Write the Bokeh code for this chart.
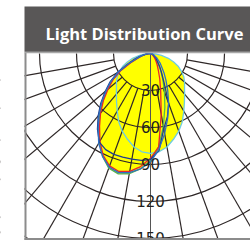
import numpy as np
from bokeh.plotting import figure
from bokeh.models import Range1d
from bokeh.embed import file_html
from bokeh.resources import INLINE
from bokeh.core.properties import value

# ---------------- data ----------------
title_text = "Light Distribution Curve"
ring_values = [30, 60, 90, 120, 150, 180, 210]
ring_labels = ["30", "60", "90", "120", "150"]
spoke_angles = [-80, -70, -60, -50, -40, -30, -20, -10, 10, 20, 30, 40, 50, 60, 70, 80]

angles = list(range(-90, 95, 5))  # degrees from nadir, + = right
blue = [0, 2, 5, 8, 12, 20, 30, 39, 47, 56, 65, 74, 84, 92, 98, 100, 98, 94, 88,
        78, 66, 54, 43, 33, 25, 19, 14, 11, 8, 6, 4, 3, 2, 1, 1, 0, 0]
red = [0, 1, 4, 7, 11, 18, 28, 37, 45, 54, 63, 72, 82, 91, 97, 99, 97, 92, 85,
       76, 50, 32, 22, 15, 11, 8, 6, 4, 3, 2, 2, 1, 1, 0, 0, 0, 0]
navy = [0, 2, 5, 9, 14, 21, 31, 40, 48, 57, 66, 75, 83, 86, 87, 87, 87, 87, 86,
        79, 62, 53, 43, 26, 18, 13, 9, 7, 6, 4, 3, 2, 1, 1, 0, 0, 0]
green = [0, 1, 4, 7, 11, 19, 29, 38, 46, 55, 64, 73, 83, 92, 99, 101, 99, 94, 87,
         76, 60, 45, 33, 24, 17, 12, 9, 6, 5, 3, 2, 2, 1, 1, 0, 0, 0]
cyan = [0, 4, 9, 15, 20, 25, 29, 33, 36, 39, 43, 48, 54, 61, 67, 72, 77, 80, 81,
        80, 77, 72, 67, 61, 54, 48, 43, 39, 36, 33, 29, 25, 20, 15, 9, 4, 0]

curves = [(cyan, "#6fcde0"), (green, "#5cb84a"), (red, "#e8262d"),
          (navy, "#1f3d8f"), (blue, "#2f6fc4")]

# ---------------- layout ----------------
W, H = 250, 241
S = 37 / 30.0            # pixels per intensity unit
OXf, OYf = 150, 53       # polar origin in figure pixels

def dx(xp):
    return (xp - OXf) / S

def dy(yp):
    return (OYf - yp) / S

p = figure(width=W, height=H, output_backend="svg", toolbar_location=None,
           x_range=Range1d(dx(0), dx(W)), y_range=Range1d(dy(H), dy(0)),
           min_border=0)
p.axis.visible = False
p.grid.visible = False
p.outline_line_color = None
p.background_fill_color = "white"
p.border_fill_color = "white"

def polar(vals):
    th = np.radians(np.array(angles, dtype=float))
    r = np.array(vals, dtype=float)
    return r * np.sin(th), -r * np.cos(th)

# yellow envelope
for vals, col in curves:
    x, y = polar(vals)
    p.patch(x, y, fill_color="#ffff00", line_color=None)

# polar grid
grid_col = "#2e2727"
for rv in ring_values:
    p.arc(x=0, y=0, radius=rv, start_angle=np.pi, end_angle=2 * np.pi,
          line_color=grid_col, line_width=1.2)
th = np.radians(np.array(spoke_angles, dtype=float))
r0, r1 = ring_values[0], 400
p.segment(x0=r0 * np.sin(th), y0=-r0 * np.cos(th), x1=r1 * np.sin(th), y1=-r1 * np.cos(th),
          line_color=grid_col, line_width=1.2)
p.segment(x0=[0], y0=[0], x1=[0], y1=[-400], line_color="#555555", line_width=1)

# curves
for vals, col in curves:
    x, y = polar(vals)
    p.line(x, y, line_color=col, line_width=1.3)

# ring labels
p.text(x=[0] * len(ring_labels), y=[-v + 0.5 for v in ring_values[:len(ring_labels)]],
       text=ring_labels, text_align="center", text_baseline="alphabetic",
       text_font=value("DejaVu Sans"), text_font_size="15px", text_color="#231f20")

# masks and frame
p.quad(left=[dx(-5)], right=[dx(24)], bottom=[dy(H + 5)], top=[dy(-5)],
       fill_color="white", line_color=None)
p.quad(left=[dx(-5)], right=[dx(W + 5)], bottom=[dy(H + 5)], top=[dy(239.3)],
       fill_color="white", line_color=None)
p.segment(x0=[dx(25)], y0=[dy(52)], x1=[dx(25)], y1=[dy(239.5)], line_color="#8c8c8c", line_width=2)
p.segment(x0=[dx(24)], y0=[dy(238.5)], x1=[dx(W + 5)], y1=[dy(238.5)], line_color="#8c8c8c", line_width=2)
p.segment(x0=[dx(24)], y0=[dy(52)], x1=[dx(W + 5)], y1=[dy(52)], line_color="#a8a8a8", line_width=1.5)

# header
p.quad(left=[dx(24)], right=[dx(W + 5)], bottom=[dy(51.3)], top=[dy(6)],
       fill_color="#595757", line_color=None)
p.text(x=[dx(144)], y=[dy(33.3)], text=[title_text], text_align="center",
       text_baseline="alphabetic", text_font=value("Open Sans"), text_font_style="bold",
       text_font_size="16.5px", text_color="white")

open("out.html", "w").write(file_html(p, INLINE))
